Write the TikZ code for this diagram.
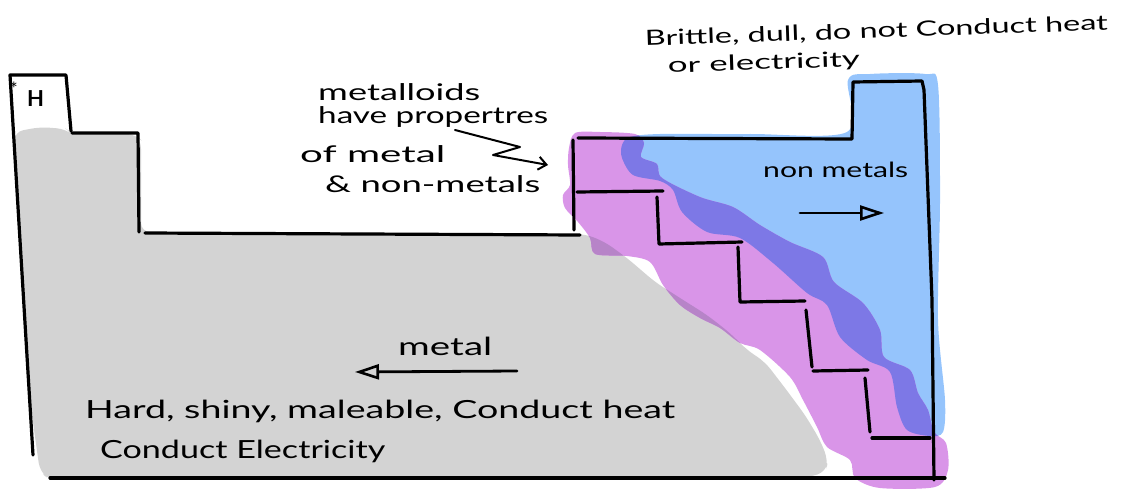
\documentclass[tikz,border=0pt]{standalone}
\usepackage{fontspec}
\setmainfont{Lato}
\usetikzlibrary{arrows.meta}
\definecolor{metalgray}{HTML}{D3D3D3}
\definecolor{mlpurple}{HTML}{D995E8}
\definecolor{nmblue}{HTML}{95C4FC}
\definecolor{overlapblue}{HTML}{7D78E6}
\definecolor{overlapmauve}{HTML}{B784C8}
\newcommand{\hw}[3]{\resizebox{#1}{\height}{\fontsize{#2}{#2}\selectfont #3}}
\tikzset{
 ink/.style={line width=3.2pt, line cap=round, line join=round, black},
 hand/.style={inner sep=0pt, anchor=base west, text=black},
 arr/.style={line width=2.8pt, line cap=round, line join=round, black, -{Triangle[open, length=24pt, width=15pt, line width=2.6pt]}},
 barb/.style={line width=2pt, line cap=round, line join=round, black, -{Straight Barb[length=8pt, width=13pt]}},
}
\def\grayregion{(14,132) -- (40,127) -- (66,129) -- (72,134) -- (136,134) -- (141,140) -- (141,232) -- (585,234) -- (605,242) -- (627,258) -- (655,282) -- (680,298) -- (707,315) -- (730,333) -- (747,350) -- (765,362) -- (785,388) -- (805,415) -- (820,440) -- (828,460) -- (826,472) -- (805,478) -- (50,480) -- (40,472) -- (27,380) -- cycle}
\def\purpleregion{plot[smooth cycle, tension=0.5] coordinates {(575,133) (600,132) (635,134) (644,143) (641,157) (657,164) (662,178) (700,197) (733,207) (760,225) (790,242) (823,257) (834,282) (863,303) (880,330) (884,357) (910,370) (918,393) (928,410) (934,432) (946,443) (948,470) (935,487) (880,488) (855,478) (850,460) (827,447) (817,427) (803,400) (790,377) (760,350) (740,343) (720,328) (700,318) (680,305) (663,285) (650,262) (627,256) (595,254) (590,238) (578,222) (565,208) (563,195) (570,185) (568,165) (569,148)}}
\def\blueregion{plot[smooth cycle, tension=0.5] coordinates {(630,137) (660,134) (750,134) (847,132) (848,80) (870,74) (925,74) (938,85) (940,200) (938,320) (945,400) (943,432) (930,436) (907,430) (897,407) (890,372) (867,360) (840,337) (827,305) (807,293) (773,263) (740,238) (707,232) (682,212) (673,190) (660,181) (633,175) (622,158) (622,145)}}
\begin{document}
\begin{tikzpicture}[x=1pt,y=-1pt]
\useasboundingbox (0,0) rectangle (1122,489);
% colour regions
\fill[metalgray, rounded corners=9pt] \grayregion;
\fill[nmblue] \blueregion;
\fill[mlpurple] \purpleregion;
\begin{scope}
 \clip \purpleregion;
 \fill[overlapblue] \blueregion;
 \fill[overlapmauve, rounded corners=9pt] \grayregion;
\end{scope}
% outline of the table
\draw[ink] (33,455) -- (10,75) -- (66,75) -- (71,131);
\draw[ink] (72,133) -- (138,133) -- (139,232);
\draw[ink] (145,233) -- (580,235);
\draw[ink] (573,140) -- (574,230);
\draw[ink] (578,138) -- (852,139) -- (853,82) -- (922,81) -- (924,90) -- (932,300) -- (934,480);
\draw[ink] (50,478) -- (945,478);
% staircase
\draw[ink] (577,192) -- (663,191);
\draw[ink] (657,197) -- (659,244) -- (742,242);
\draw[ink] (738,247) -- (740,302) -- (805,301);
\draw[ink] (806,310) -- (812,367);
\draw[ink] (813,371) -- (868,370);
\draw[ink] (865,378) -- (870,432);
\draw[ink] (872,438) -- (930,438);
% labels
\node[hand] (hsym) at (27,107) {\fontsize{22}{22}\selectfont\bfseries H};
\node[hand] (star) at (10,96) {\fontsize{18}{18}\selectfont *};
\node[hand] (ml1) at (318,101) {\hw{162pt}{23}{metalloids}};
\node[hand] (ml2) at (318,124) {\hw{230pt}{23}{have propertres}};
\node[hand] (ml3) at (300,163) {\hw{145pt}{23}{of metal}};
\node[hand] (ml4) at (325,193) {\hw{215pt}{23}{\& non-metals}};
\node[hand, rotate=2] (nm1) at (645,46) {\hw{463pt}{21}{Brittle, dull, do not Conduct heat}};
\node[hand, rotate=2] (nm2) at (668,73) {\hw{192pt}{21}{or electricity}};
\node[hand] (nm) at (763,178) {\hw{145pt}{21}{non metals}};
\node[hand] (mt) at (398,355) {\hw{94pt}{25}{metal}};
\node[hand] (mp1) at (85,418) {\hw{590pt}{25}{Hard, shiny, maleable, Conduct heat}};
\node[hand] (mp2) at (100,458) {\hw{285pt}{25}{Conduct Electricity}};
% arrows
\coordinate (mlA) at (455,130);
\coordinate (mlB) at (548,165);
\draw[barb] (mlA) -- (520,147) -- (493,155) -- (mlB);
\coordinate (nmA) at (800,213);
\coordinate (nmB) at (884,213);
\draw[arr] (nmA) -- (nmB);
\coordinate (mtA) at (517,371);
\coordinate (mtB) at (355,372);
\draw[arr] (mtA) -- (mtB);
\end{tikzpicture}
\end{document}
